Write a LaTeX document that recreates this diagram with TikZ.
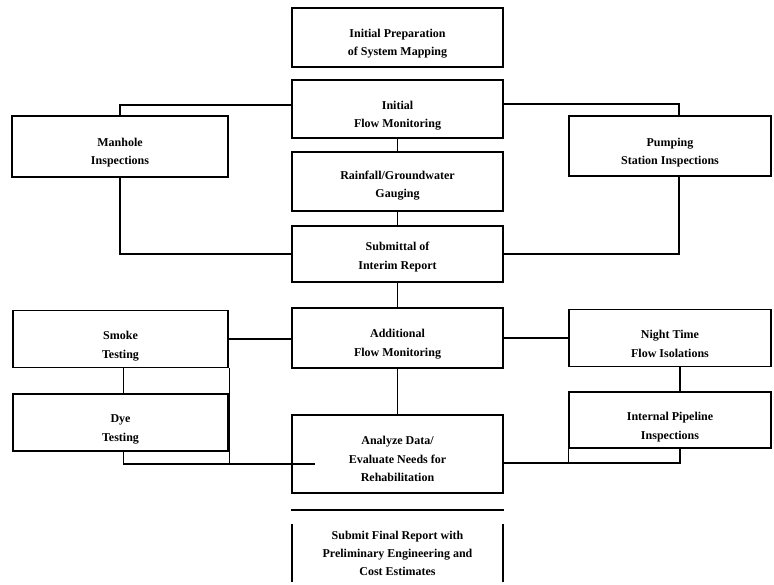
\documentclass[tikz,border=0pt]{standalone}
\usepackage{fontspec}
\setmainfont{Liberation Serif}
\usetikzlibrary{calc}
\newcommand\dnsh[1]{\rule{0pt}{#1pt}}
\begin{document}
\begin{tikzpicture}[x=1pt,y=-1pt,
  box/.style={draw,line width=1.9pt,align=center,inner sep=0pt,
    font=\bfseries\fontsize{12}{18.5}\selectfont},
  plain/.style={align=center,inner sep=0pt,
    font=\bfseries\fontsize{12}{18}\selectfont},
  conn/.style={line width=1.9pt},
  thinconn/.style={line width=0.9pt}]
\useasboundingbox (0,0) rectangle (774,584);
% central column
\node[box,minimum width=211pt,minimum height=59pt] (prep) at (397.5,37.5) {\dnsh{20.5}Initial Preparation\\of System Mapping};
\node[box,minimum width=211pt,minimum height=58pt] (ifm) at (397.5,109) {\dnsh{22}Initial\\Flow Monitoring};
\node[box,minimum width=211pt,minimum height=59pt] (rain) at (397.5,181.5) {\dnsh{16.5}Rainfall/Groundwater\\Gauging};
\node[box,minimum width=211pt,minimum height=56pt] (interim) at (397.5,254) {\dnsh{14.5}Submittal of\\Interim Report};
\node[box,minimum width=211pt,minimum height=60pt] (addl) at (397.5,338) {\dnsh{20.5}Additional\\Flow Monitoring};
\node[box,minimum width=211pt,minimum height=78pt] (analyze) at (397.5,454) {\dnsh{18.5}Analyze Data/\\Evaluate Needs for\\Rehabilitation};
\node[plain,minimum width=211pt,minimum height=58pt] (final) at (397.5,553) {Submit Final Report with\\Preliminary Engineering and\\Cost Estimates};
\draw[conn] (final.north west) -- (final.south west);
\draw[conn] (final.north east) -- (final.south east);
\draw[conn] ($(analyze.south west)+(0,16)$) -- ($(analyze.south east)+(0,16)$);
% left column
\node[box,minimum width=216pt,minimum height=61pt] (manhole) at (120,146.5) {\dnsh{20.5}Manhole\\Inspections};
\node[box,minimum width=215pt,minimum height=57pt] (smoke) at (120.5,339) {\dnsh{22.5}Smoke\\Testing};
\node[box,minimum width=215pt,minimum height=57pt] (dye) at (120.5,422.5) {\dnsh{22}Dye\\Testing};
% right column
\node[box,minimum width=202pt,minimum height=60pt] (pump) at (670,146) {\dnsh{22}Pumping\\Station Inspections};
\node[box,minimum width=202pt,minimum height=57pt] (night) at (670,338) {\dnsh{20.5}Night Time\\Flow Isolations};
\node[box,minimum width=202pt,minimum height=56pt] (internal) at (670,420) {\dnsh{22.5}Internal Pipeline\\Inspections};
\coordinate (dyeend) at (315,464);
% central connectors
\draw[conn] (ifm.south) -- (rain.north);
\draw[conn] (rain.south) -- (interim.north);
\draw[conn] (interim.south) -- (addl.north);
\draw[conn] (addl.south) -- (analyze.north);
% left connectors
\draw[conn] (manhole.north) |- ($(ifm.west)+(0,-4)$);
\draw[conn] (manhole.south) |- (interim.west);
\draw[conn] (smoke.east) -- (smoke.east -| addl.west);
\draw[conn] ($(smoke.south)+(3,0)$) -- ($(dye.north)+(3,0)$);
\draw[conn] ($(dye.south)+(3,0)$) |- (dyeend);
\draw[thinconn] (smoke.south east) -- (smoke.south east |- dyeend);
% right connectors
\draw[conn] ($(pump.north)+(9,0)$) |- ($(ifm.east)+(0,-5)$);
\draw[conn] ($(pump.south)+(9,0)$) |- (interim.east);
\draw[conn] (addl.east) -- (night.west);
\draw[conn] ($(night.south)+(10,0)$) -- ($(internal.north)+(10,0)$);
\draw[conn] ($(internal.south)+(10,0)$) |- ($(analyze.east)+(0,9)$);
\draw[thinconn] (internal.south west) -- ($(internal.south west)+(0,15)$);
\end{tikzpicture}
\end{document}
